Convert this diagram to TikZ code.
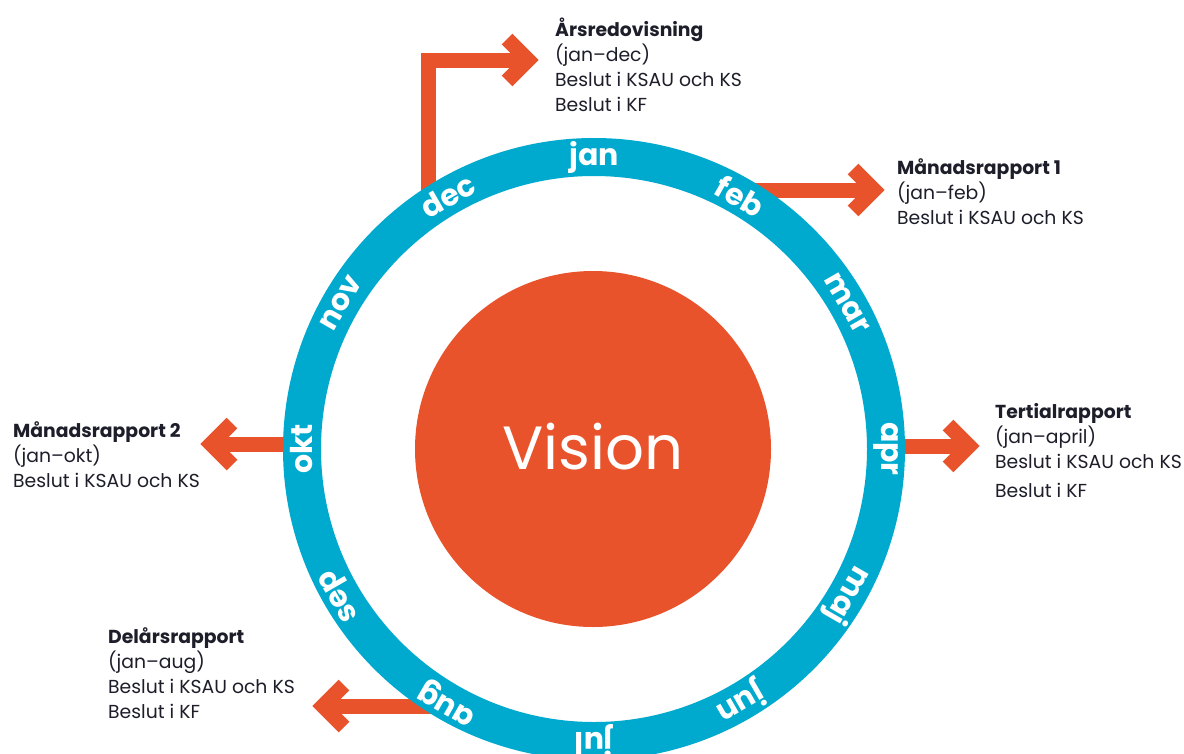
\documentclass[tikz,border=0pt]{standalone}
\usepackage{fontspec}
\setmainfont{Poppins}
\usetikzlibrary{calc}
\definecolor{vorange}{HTML}{E9532B}
\definecolor{vblue}{HTML}{00A9CE}
\definecolor{vtext}{HTML}{1E1E2A}
\begin{document}
\begin{tikzpicture}[x=1pt,y=-1pt,
  shaft/.style={draw=vorange, line width=15pt, line join=miter},
  infotext/.style={text=vtext, align=left, inner sep=0pt, anchor=base west,
    font=\fontsize{18.8}{25}\selectfont},
  monthlbl/.style={text=white, inner sep=0pt, font=\fontsize{30}{30}\selectfont\bfseries},
  visionstyle/.style={circle, fill=vorange, text=white, minimum size=356pt, inner sep=0pt,
    font=\fontsize{61}{61}\selectfont}
]
\useasboundingbox (0,0) rectangle (1184,753);
\fill[white] (0,0) rectangle (1184,753);
\clip (0,0) rectangle (1184,753);

% centre
\coordinate (C) at (594,449);

% arrow coordinates
\coordinate (s1) at (428,205);
\coordinate (k1) at (428,60);
\coordinate (t1) at (539,60);
\coordinate (s2) at (745,190);
\coordinate (t2) at (885,190);
\coordinate (s3) at (880,446);
\coordinate (t3) at (980,446);
\coordinate (s4) at (305,444);
\coordinate (t4) at (200,444);
\coordinate (s5) at (440,706);
\coordinate (t5) at (312,706);

% shafts
\draw[shaft] (s1) -- (k1) -- ($(t1)+(-11,0)$);
\draw[shaft] (s2) -- ($(t2)+(-11,0)$);
\draw[shaft] (s3) -- ($(t3)+(-11,0)$);
\draw[shaft] (s4) -- ($(t4)+(11,0)$);
\draw[shaft] (s5) -- ($(t5)+(11,0)$);
% heads
\draw[shaft] ($(t1)+(-32,-21)$) -- ($(t1)+(-11,0)$) -- ($(t1)+(-32,21)$);
\draw[shaft] ($(t2)+(-32,-21)$) -- ($(t2)+(-11,0)$) -- ($(t2)+(-32,21)$);
\draw[shaft] ($(t3)+(-32,-21)$) -- ($(t3)+(-11,0)$) -- ($(t3)+(-32,21)$);
\draw[shaft] ($(t4)+(32,-21)$) -- ($(t4)+(11,0)$) -- ($(t4)+(32,21)$);
\draw[shaft] ($(t5)+(32,-21)$) -- ($(t5)+(11,0)$) -- ($(t5)+(32,21)$);

% ring
\draw[vblue, line width=38pt] (C) circle [radius=292];
% vision
\node[visionstyle] (vision) at (593,449) {\raisebox{5pt}{Vision}};

% months
\foreach \m/\a in {jan/90, feb/60, mar/30, apr/0, maj/-30, jun/-60, jul/-90, aug/-120, sep/-150, okt/180, nov/150, dec/120}{
  \node[monthlbl, rotate=\a-90] (m-\m) at ($(C)+(\a:292pt)$) {\m};
}

% texts (anchored at the baseline of the last line)
\node[infotext] (ars) at (555,111) {\textbf{Årsredovisning}\\(jan–dec)\\Beslut i KSAU och KS\\Beslut i KF};
\node[infotext] (mr1) at (897,224) {\textbf{Månadsrapport 1}\\(jan–feb)\\Beslut i KSAU och KS};
\node[infotext] (ter) at (995,497) {\textbf{Tertialrapport}\\(jan–april)\\Beslut i KSAU och KS\\[4pt]Beslut i KF};
\node[infotext] (mr2) at (13,487) {\textbf{Månadsrapport 2}\\(jan–okt)\\Beslut i KSAU och KS};
\node[infotext] (del) at (108,718) {\textbf{Delårsrapport}\\(jan–aug)\\Beslut i KSAU och KS\\Beslut i KF};
\end{tikzpicture}
\end{document}
